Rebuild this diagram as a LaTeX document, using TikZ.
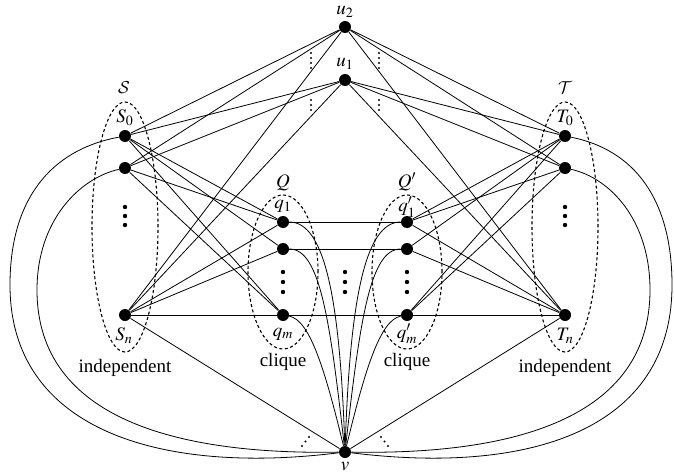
\documentclass[tikz,border=0pt]{standalone}
\usepackage{mathptmx}
\DeclareMathAlphabet{\mathcal}{OMS}{cmsy}{m}{n}
\usepackage{fontspec}
\setmainfont{Liberation Serif}
\usetikzlibrary{positioning, shapes.geometric}

\begin{document}
\begin{tikzpicture}[
          x=1pt, y=-1pt, line width=0.8pt,
          font=\fontsize{19}{22}\selectfont,
          vx/.style={circle,fill,inner sep=0pt,minimum size=12pt},
          lb/.style={inner sep=1pt},
          grp/.style={ellipse,draw,dash pattern=on 3pt off 2.5pt,line width=1.1pt,inner sep=0pt},
          dt/.style={circle,fill,inner sep=0pt,minimum size=4.4pt},
          sdt/.style={circle,fill,inner sep=0pt,minimum size=2.4pt}
        ]
        \useasboundingbox (0,0) rectangle (674,476);
        % groups
        \node[grp,minimum width=66pt,minimum height=250pt] (grpS) at (125,227) {};
        \node[grp,minimum width=66pt,minimum height=250pt] (grpT) at (565,227) {};
        \node[grp,minimum width=70pt,minimum height=154pt] (grpQ) at (283,272) {};
        \node[grp,minimum width=70pt,minimum height=154pt] (grpQp) at (407,272) {};
        % vertices
        \node[vx] (u2) at (345,27) {};
        \node[vx] (u1) at (345,80) {};
        \node[vx] (v) at (345,452) {};
        \foreach\i/\y in {0/136,1/168,n/315}{
          \node[vx] (S\i) at (125,\y) {};
          \node[vx] (T\i) at (565,\y) {};
        }
        \foreach\i/\y in {1/222,2/249,m/315}{
          \node[vx] (q\i) at (283,\y) {};
          \node[vx] (p\i) at (407,\y) {};
        }
        % labels
        \node[lb] (lu2) at (345,12) {$u_2$};
        \node[lb] (lu1) at (345,64) {$u_1$};
        \node[lb] (lv) at (345,467) {$v$};
        \node[lb] (lS) at (124,88) {$\mathcal{S}$};
        \node[lb] (lT) at (565,88) {$\mathcal{T}$};
        \node[lb] (lS0) at (125,118) {$S_0$};
        \node[lb] (lSn) at (124,336) {$S_n$};
        \node[lb] (lT0) at (565,118) {$T_0$};
        \node[lb] (lTn) at (565,336) {$T_n$};
        \node[lb] (lQ) at (283,183) {$Q$};
        \node[lb] (lQp) at (407,182) {$Q'$};
        \node[lb] (lq1) at (283,206) {$q_1$};
        \node[lb] (lqm) at (283,334) {$q_m$};
        \node[lb] (lp1) at (407,207) {$q'_1$};
        \node[lb] (lpm) at (407,334) {$q'_m$};
        \node[lb] (indS) at (125,368) {independent};
        \node[lb] (indT) at (565,368) {independent};
        \node[lb] (clqQ) at (283,362) {clique};
        \node[lb] (clqQp) at (407,362) {clique};
        % edges
        \foreach\u in {u1,u2}{
          \foreach\x in {S0,S1,Sn,T0,T1,Tn}{\draw (\u) -- (\x);}
        }
        \foreach\a/\b in {S0/q1,S0/q2,S0/qm,S1/q1,S1/qm,Sn/q1,Sn/q2,Sn/qm,
                          T0/p1,T0/p2,T0/pm,T1/p1,T1/pm,Tn/p1,Tn/p2,Tn/pm,
                          q1/p1,q2/p2,qm/pm,Sn/v,Tn/v}{\draw (\a) -- (\b);}
        \draw (q1) .. controls (325,222) and (340,300) .. (v);
        \draw (q2) .. controls (320,249) and (330,320) .. (v);
        \draw (qm) .. controls (310,320) and (325,370) .. (v);
        \draw (p1) .. controls (365,222) and (350,300) .. (v);
        \draw (p2) .. controls (370,249) and (360,320) .. (v);
        \draw (pm) .. controls (380,320) and (365,370) .. (v);
        \draw (S0) .. controls (50,150) and (10,200) .. (10,285) .. controls (10,430) and (160,475) .. (v);
        \draw (S1) .. controls (80,178) and (37,220) .. (37,290) .. controls (37,420) and (180,455) .. (v);
        \draw (T0) .. controls (635,150) and (672,200) .. (672,285) .. controls (672,430) and (530,475) .. (v);
        \draw (T1) .. controls (610,178) and (650,220) .. (650,290) .. controls (650,420) and (510,455) .. (v);
        % dots
        \foreach\y in {207,216,225}{
          \node[dt] (dS\y) at (125,\y) {};
          \node[dt] (dT\y) at (565,\y) {};
        }
        \foreach\y in {272,282,292}{
          \node[dt] (dQ\y) at (283,\y) {};
          \node[dt] (dM\y) at (345,\y) {};
          \node[dt] (dQp\y) at (407,\y) {};
        }
        \foreach\y in {53,58,63,68,100,105,110}{
          \node[sdt] (da\y) at (311,\y) {};
          \node[sdt] (db\y) at (379,\y) {};
        }
        \foreach\x/\y in {302/446,305.5/441.5,309/437}{\node[sdt] (dl\x) at (\x,\y) {};}
        \foreach\x/\y in {381/437,384.5/441.5,388/446}{\node[sdt] (dr\x) at (\x,\y) {};}
      \end{tikzpicture}
\end{document}
